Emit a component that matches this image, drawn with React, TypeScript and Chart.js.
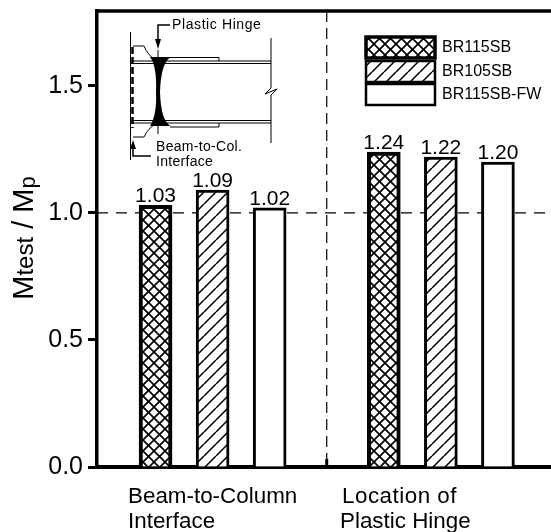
import React, { useEffect, useRef } from "react";
import { Chart, registerables } from "chart.js";

Chart.register(...registerables);

const seriesNames = ["BR115SB", "BR105SB", "BR115SB-FW"];
const positions115 = [0, 4];
const positions105 = [1, 5];
const positionsFw = [2, 6];
const valuesBr115 = [1.03, 1.24];
const valuesBr105 = [1.09, 1.22];
const valuesFw = [1.02, 1.2];
const groupLabels = [
  ["Beam-to-Column", "Interface"],
  ["Location of", "Plastic Hinge"],
];
const yTicks = [0, 0.5, 1, 1.5];
const FONT = '"Liberation Sans", Arial, sans-serif';

function makePattern(kind: string): CanvasPattern | string {
  if (kind === "none") return "#fff";
  const size = kind === "cross" ? 11 : 12;
  const c = document.createElement("canvas");
  c.width = size;
  c.height = size;
  const g = c.getContext("2d")!;
  g.fillStyle = "#fff";
  g.fillRect(0, 0, size, size);
  g.strokeStyle = "#000";
  g.lineWidth = kind === "cross" ? 1.7 : 1.5;
  const fwd = () => {
    g.beginPath();
    for (let o = -size; o <= size * 2; o += size) {
      g.moveTo(o, size);
      g.lineTo(o + size, 0);
    }
    g.stroke();
  };
  const back = () => {
    g.beginPath();
    for (let o = -size; o <= size * 2; o += size) {
      g.moveTo(o, 0);
      g.lineTo(o + size, size);
    }
    g.stroke();
  };
  fwd();
  if (kind === "cross") back();
  return g.createPattern(c, "repeat")!;
}

const decorations = {
  id: "decorations",
  beforeDatasetsDraw(chart: any) {
    const { ctx, scales, chartArea } = chart;
    const xS = scales.x;
    const yS = scales.y;
    ctx.save();
    ctx.strokeStyle = "#000";
    ctx.lineWidth = 1.2;
    ctx.setLineDash([11, 8]);
    ctx.beginPath();
    ctx.moveTo(chartArea.left, yS.getPixelForValue(1));
    ctx.lineTo(chartArea.right, yS.getPixelForValue(1));
    ctx.stroke();
    ctx.setLineDash([11, 6]);
    const xd = xS.getPixelForValue(3);
    ctx.beginPath();
    ctx.moveTo(xd, chartArea.top);
    ctx.lineTo(xd, chartArea.bottom - 8);
    ctx.stroke();
    ctx.setLineDash([]);
    ctx.lineWidth = 3;
    ctx.beginPath();
    ctx.moveTo(xd, chartArea.bottom - 8);
    ctx.lineTo(xd, chartArea.bottom);
    ctx.stroke();
    ctx.restore();
  },
  afterDatasetsDraw(chart: any) {
    const { ctx, scales, chartArea } = chart;
    const xS = scales.x;
    const yS = scales.y;
    ctx.save();
    ctx.strokeStyle = "#000";
    ctx.fillStyle = "#000";

    // top frame
    ctx.lineWidth = 3.5;
    ctx.beginPath();
    ctx.moveTo(chartArea.left - 1.5, chartArea.top);
    ctx.lineTo(chartArea.right, chartArea.top);
    ctx.stroke();

    // value labels
    ctx.font = `21px ${FONT}`;
    ctx.textAlign = "center";
    ctx.textBaseline = "alphabetic";
    chart.data.datasets.forEach((ds: any) => {
      ds.data.forEach((p: any) => {
        ctx.fillText(p.y.toFixed(2), xS.getPixelForValue(p.x), yS.getPixelForValue(p.y) - 3);
      });
    });

    // group labels
    ctx.font = `22.4px ${FONT}`;
    ctx.textAlign = "left";
    const labelX = [[128, 128], [342, 340]];
    groupLabels.forEach((lines, i) => {
      lines.forEach((t, j) => {
        (ctx as any).letterSpacing = i === 1 && j === 0 ? "0.5px" : "0px";
        ctx.fillText(t, labelX[i][j], 503 + j * 25);
      });
    });
    (ctx as any).letterSpacing = "0px";

    // legend
    chart.data.datasets.forEach((ds: any, i: number) => {
      const top = [37, 61, 84][i];
      ctx.fillStyle = ds.backgroundColor;
      ctx.fillRect(366, top, 69, 21);
      ctx.lineWidth = i === 0 ? 3.5 : 2.5;
      ctx.strokeRect(366, top, 69, 21);
      ctx.fillStyle = "#000";
      ctx.font = `16px ${FONT}`;
      ctx.textBaseline = "middle";
      ctx.fillText(seriesNames[i], 442, top + 11);
    });

    // connection detail inset
    ctx.lineWidth = 1;
    const line = (pts: number[][], w = 1) => {
      ctx.lineWidth = w;
      ctx.beginPath();
      pts.forEach(([a, b], k) => (k ? ctx.lineTo(a, b) : ctx.moveTo(a, b)));
      ctx.stroke();
    };
    line([[130.5, 32], [130.5, 160]]);
    ctx.setLineDash([7, 3]);
    line([[132.5, 47], [132.5, 128]], 2.5);
    ctx.setLineDash([]);
    line([[131, 61], [271, 61]]);
    line([[131, 63.5], [271, 63.5]]);
    line([[131, 120.5], [271, 120.5]]);
    line([[131, 123], [271, 123]]);
    line([[170, 57.5], [219, 57.5], [219, 61]]);
    line([[170, 127], [219, 127], [219, 123]]);
    line([[271, 38], [271, 88]]);
    line([[271, 88], [265, 94], [277, 89], [271, 95], [271, 143]]);
    line([[158, 50], [158, 134]]);
    // hinge shape
    ctx.beginPath();
    ctx.moveTo(150, 57);
    ctx.lineTo(171, 57);
    ctx.quadraticCurveTo(161, 62, 160, 92);
    ctx.quadraticCurveTo(161, 122, 171, 126);
    ctx.lineTo(150, 126);
    ctx.quadraticCurveTo(157, 115, 156, 92);
    ctx.quadraticCurveTo(157, 66, 150, 57);
    ctx.fill();
    // haunch cuts
    ctx.lineWidth = 1;
    ctx.beginPath();
    ctx.moveTo(133, 46);
    ctx.lineTo(144, 46);
    ctx.quadraticCurveTo(148, 56, 156, 60);
    ctx.moveTo(133, 137);
    ctx.lineTo(144, 137);
    ctx.quadraticCurveTo(148, 128, 156, 124);
    ctx.stroke();
    // plastic hinge arrow
    line([[170, 25], [158, 25], [158, 42]], 1.5);
    ctx.beginPath();
    ctx.moveTo(155, 39);
    ctx.lineTo(161, 39);
    ctx.lineTo(158, 49);
    ctx.fill();
    // interface arrow
    line([[151, 156], [133, 156], [133, 146]], 1.5);
    ctx.beginPath();
    ctx.moveTo(130, 149);
    ctx.lineTo(136, 149);
    ctx.lineTo(133, 140);
    ctx.fill();
    ctx.font = `14px ${FONT}`;
    ctx.textAlign = "left";
    ctx.textBaseline = "middle";
    (ctx as any).letterSpacing = "0.6px";
    ctx.fillText("Plastic Hinge", 172, 25);
    (ctx as any).letterSpacing = "0.3px";
    ctx.fillText("Beam-to-Col.", 156, 147);
    ctx.fillText("Interface", 156, 162);
    (ctx as any).letterSpacing = "0px";

    // y axis title with small inner text
    ctx.translate(33, 238);
    ctx.rotate(-Math.PI / 2);
    ctx.textAlign = "left";
    ctx.textBaseline = "alphabetic";
    const parts: [string, number, number][] = [
      ["M", 29, 0],
      ["test", 24, 0],
      [" / M", 29, 0],
      ["p", 22, 2],
    ];
    let total = 0;
    parts.forEach(([t, s]) => {
      ctx.font = `${s}px ${FONT}`;
      total += ctx.measureText(t).width;
    });
    let cx = -total / 2;
    parts.forEach(([t, s, dy]) => {
      ctx.font = `${s}px ${FONT}`;
      ctx.fillText(t, cx, dy);
      cx += ctx.measureText(t).width;
    });
    ctx.restore();
  },
};

export default function App() {
  const ref = useRef<HTMLCanvasElement>(null);
  useEffect(() => {
    const kinds = ["cross", "hatch", "none"];
    const pos = [positions115, positions105, positionsFw];
    const vals = [valuesBr115, valuesBr105, valuesFw];
    const chart = new Chart(ref.current!, {
      type: "bar",
      data: {
        datasets: seriesNames.map((name, i) => ({
          label: name,
          data: pos[i].map((x, k) => ({ x, y: vals[i][k] })),
          backgroundColor: makePattern(kinds[i]) as any,
          borderColor: "#000",
          borderWidth: i === 0 ? 4 : 3,
          barThickness: 33,
          grouped: false,
        })),
      },
      options: {
        animation: false,
        responsive: false,
        layout: { padding: { top: 11, right: 0, bottom: 0, left: 0 } },
        plugins: { legend: { display: false }, tooltip: { enabled: false } },
        scales: {
          x: {
            type: "linear",
            min: -1.026,
            max: 6.93,
            offset: false,
            afterFit: (s: any) => {
              s.height = 65;
              s.paddingLeft = 0;
              s.paddingRight = 0;
            },
            grid: { display: false },
            ticks: { display: false },
            border: { display: true, color: "#000", width: 4 },
          },
          y: {
            min: 0,
            max: 1.795,
            afterFit: (s: any) => {
              s.width = 97;
              s.paddingTop = 0;
              s.paddingBottom = 0;
            },
            afterBuildTicks: (s: any) => {
              s.ticks = yTicks.map((value) => ({ value }));
            },
            grid: {
              drawOnChartArea: false,
              drawTicks: true,
              tickLength: 9,
              tickWidth: 3,
              tickColor: "#000",
            },
            border: { display: true, color: "#000", width: 3.5 },
            ticks: {
              color: "#000",
              padding: 5,
              font: { family: FONT, size: 25 },
              callback: (v: any) => Number(v).toFixed(1),
            },
          },
        },
      },
      plugins: [decorations],
    } as any);
    return () => chart.destroy();
  }, []);
  return (
    <div style={{ position: "fixed", left: 0, top: 0, background: "#fff" }}>
      <canvas ref={ref} width={551} height={532} style={{ display: "block" }} />
    </div>
  );
}
